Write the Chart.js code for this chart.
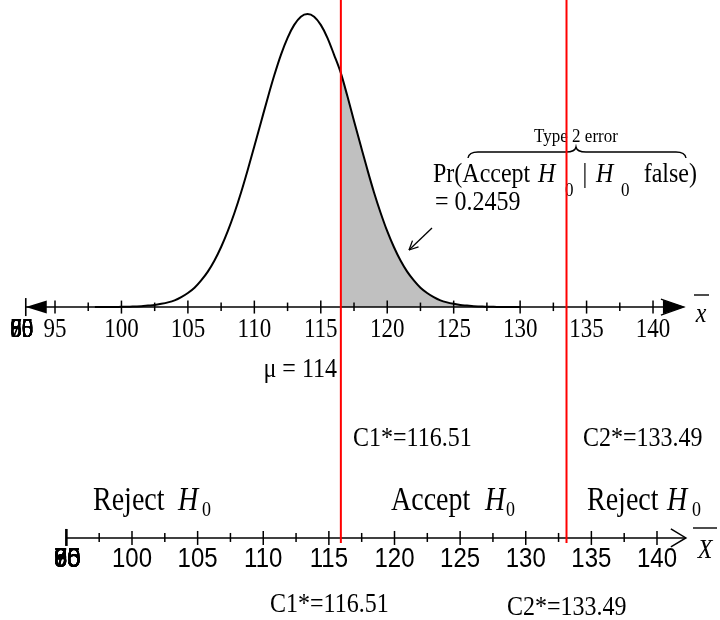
<!DOCTYPE html>
<html lang="en">
<head>
<meta charset="UTF-8">
<title>Type 2 error</title>
<style>
  html, body { margin: 0; padding: 0; background: #fff; }
  #chart { display: block; }
</style>
</head>
<body>
<canvas id="chart" width="720" height="620"></canvas>
<script src="https://cdn.jsdelivr.net/npm/chart.js"></script>
<script>
// values (curve height relative to its peak)
const curveX = [98, 98.5, 99, 99.5, 100, 100.5, 101, 101.5, 102, 102.5, 103, 103.5, 104, 104.5,
  105, 105.5, 106, 106.5, 107, 107.5, 108, 108.5, 109, 109.5, 110, 110.5, 111, 111.5, 112, 112.5,
  113, 113.5, 114, 114.5, 115, 115.5, 116, 116.5, 117, 117.5, 118, 118.5, 119, 119.5, 120, 120.5,
  121, 121.5, 122, 122.5, 123, 123.5, 124, 124.5, 125, 125.5, 126, 126.5, 127, 127.5, 128, 128.5,
  129, 129.5, 130];
const curveY = [0, 0, 0, 0, 0.001, 0.001, 0.002, 0.003, 0.005, 0.007, 0.011, 0.016, 0.023, 0.034,
  0.048, 0.066, 0.091, 0.121, 0.159, 0.205, 0.259, 0.321, 0.391, 0.468, 0.549, 0.631, 0.713, 0.791, 0.861, 0.919,
  0.963, 0.991, 1.000, 0.991, 0.963, 0.919, 0.861, 0.80, 0.72, 0.635, 0.552, 0.47, 0.392, 0.322, 0.259, 0.205,
  0.159, 0.121, 0.091, 0.066, 0.048, 0.034, 0.023, 0.016, 0.011, 0.007, 0.005, 0.003, 0.002, 0.001, 0.001, 0,
  0, 0, 0];
const critical = [116.51, 133.49];
const mu = 114;
const typeTwoError = 0.2459;
const topTicks = [95, 100, 105, 110, 115, 120, 125, 130, 135, 140];
const bottomTicks = [100, 105, 110, 115, 120, 125, 130, 135, 140];
const squashedTop = [55, 60, 65, 70, 75, 80, 85, 90];
const squashedBottom = [55, 60, 65, 70, 75, 80, 85, 90, 95];

// layout
const SERIF = '"Liberation Serif", "Times New Roman", serif';
const SANS = '"Liberation Sans", Arial, sans-serif';
const SY = 1.17;            // the picture is stretched a bit vertically
const Y_MAX = 1.048, Y_MIN = -1.068;
const BOTTOM_AXIS = -0.788; // y value of the lower number line
const RED_BOTTOM = -0.805;
const TOP_START = 92.8, TOP_END = 142.4;
const BOT_START = 95, BOT_END = 142.2;

function txt(ctx, s, x, y, size, o) {
  o = o || {};
  ctx.save();
  ctx.font = (o.italic ? 'italic ' : '') + size + 'px ' + (o.family || SERIF);
  ctx.textAlign = o.align || 'left';
  ctx.textBaseline = 'alphabetic';
  ctx.fillStyle = '#000';
  ctx.translate(x, y);
  ctx.scale(1, SY);
  ctx.fillText(s, 0, 0);
  ctx.restore();
}

function line(ctx, x1, y1, x2, y2, w) {
  ctx.lineWidth = w;
  ctx.beginPath();
  ctx.moveTo(x1, y1);
  ctx.lineTo(x2, y2);
  ctx.stroke();
}

const decor = {
  id: 'decor',
  afterDatasetDraw(chart, args) {
    if (args.index !== 0) return;
    const ctx = chart.ctx;
    const xs = chart.scales.x, xb = chart.scales.xb, ys = chart.scales.y;
    const yt = ys.getPixelForValue(0);
    const yb = ys.getPixelForValue(BOTTOM_AXIS);
    ctx.save();
    ctx.strokeStyle = '#000';
    ctx.fillStyle = '#000';

    // upper number line
    const t0 = xs.getPixelForValue(TOP_START), t1 = xs.getPixelForValue(TOP_END);
    line(ctx, t0, yt, t1 - 10, yt, 1.6);
    line(ctx, t0, yt - 9, t0, yt + 9, 1.6);
    ctx.beginPath();
    ctx.moveTo(t0, yt); ctx.lineTo(t0 + 21, yt - 6.5); ctx.lineTo(t0 + 21, yt + 6.5);
    ctx.closePath(); ctx.fill();
    ctx.beginPath();
    ctx.moveTo(t1, yt); ctx.lineTo(t1 - 22, yt - 7); ctx.lineTo(t1 - 22, yt + 7);
    ctx.closePath(); ctx.fill();
    ctx.lineWidth = 1.2;
    ctx.beginPath();
    ctx.moveTo(t1 - 24, yt - 8); ctx.lineTo(t1 - 1, yt); ctx.lineTo(t1 - 24, yt + 8);
    ctx.stroke();
    topTicks.forEach(v => {
      const px = xs.getPixelForValue(v);
      line(ctx, px, yt - 6.5, px, yt + 6.5, 1.5);
      if (v < 140) {
        const pm = xs.getPixelForValue(v + 2.5);
        line(ctx, pm, yt - 4.5, pm, yt + 4, 1.5);
      }
      txt(ctx, String(v), px, yt + 30, 23, { align: 'center' });
    });
    squashedTop.forEach(v => txt(ctx, String(v), t0 - 4, yt + 30, 23, { align: 'center' }));
    txt(ctx, 'x', 701, 322, 24, { italic: true, align: 'center' });
    line(ctx, 694, 295, 709, 295, 1.4);

    // lower number line
    const b0 = xb.getPixelForValue(BOT_START), b1 = xb.getPixelForValue(BOT_END);
    line(ctx, b0, yb, b1, yb, 1.6);
    line(ctx, b0, yb - 9, b0, yb + 8, 2.6);
    ctx.lineWidth = 1.5;
    ctx.beginPath();
    ctx.moveTo(b1 - 15, yb - 9); ctx.lineTo(b1, yb); ctx.lineTo(b1 - 15, yb + 9);
    ctx.stroke();
    [95].concat(bottomTicks).forEach(v => {
      const px = xb.getPixelForValue(v);
      if (v > 95) line(ctx, px, yb - 7, px, yb + 7, 1.5);
      if (v < 140) {
        const pm = xb.getPixelForValue(v + 2.5);
        line(ctx, pm, yb - 5, pm, yb + 4, 1.5);
      }
    });
    bottomTicks.forEach(v => {
      txt(ctx, String(v), xb.getPixelForValue(v), yb + 29, 24, { family: SANS, align: 'center' });
    });
    squashedBottom.forEach(v => txt(ctx, String(v), b0 + 1, yb + 29, 24, { family: SANS, align: 'center' }));
    txt(ctx, 'X', 705, 558, 24, { italic: true, align: 'center' });
    line(ctx, 693, 528, 717, 528, 1.4);

    // annotations
    txt(ctx, 'Type 2 error', 576, 142, 17, { align: 'center' });
    ctx.lineWidth = 1.4;
    ctx.beginPath();
    ctx.moveTo(468, 158);
    ctx.quadraticCurveTo(469, 152, 478, 152);
    ctx.lineTo(566, 152);
    ctx.quadraticCurveTo(575, 152, 576, 147);
    ctx.quadraticCurveTo(577, 152, 586, 152);
    ctx.lineTo(676, 152);
    ctx.quadraticCurveTo(685, 152, 686, 158);
    ctx.stroke();

    txt(ctx, 'Pr(Accept', 433, 182, 24);
    txt(ctx, 'H', 538, 182, 24, { italic: true });
    txt(ctx, '0', 565, 196, 17);
    txt(ctx, '|', 585, 182, 24, { align: 'center' });
    txt(ctx, 'H', 596, 182, 24, { italic: true });
    txt(ctx, '0', 621, 196, 17);
    txt(ctx, 'false)', 697, 182, 24, { align: 'right' });
    txt(ctx, '= ' + typeTwoError, 435, 210, 24);

    // small pointer arrow
    const ax = 409, ay = 250, bx = 432, by = 228;
    line(ctx, ax, ay, bx, by, 1.3);
    const ang = Math.atan2(by - ay, bx - ax);
    [0.45, -0.45].forEach(d => {
      line(ctx, ax, ay, ax + 10 * Math.cos(ang + d), ay + 10 * Math.sin(ang + d), 1.3);
    });

    txt(ctx, '\u03bc = ' + mu, 337, 377, 24, { align: 'right' });
    txt(ctx, 'C1*=' + critical[0].toFixed(2), 353, 446, 24);
    txt(ctx, 'C2*=' + critical[1].toFixed(2), 583, 446, 24);

    txt(ctx, 'Reject', 93, 510, 28);
    txt(ctx, 'H', 178, 510, 28, { italic: true });
    txt(ctx, '0', 202, 516, 18);
    txt(ctx, 'Accept', 391, 510, 28);
    txt(ctx, 'H', 485, 510, 28, { italic: true });
    txt(ctx, '0', 506, 516, 18);
    txt(ctx, 'Reject', 587, 510, 28);
    txt(ctx, 'H', 667, 510, 28, { italic: true });
    txt(ctx, '0', 692, 516, 18);

    txt(ctx, 'C1*=' + critical[0].toFixed(2), 270, 612, 24);
    txt(ctx, 'C2*=' + critical[1].toFixed(2), 507, 615, 24);
    ctx.restore();
  }
};

const curve = curveX.map((x, i) => ({ x: x, y: curveY[i] }));
const shaded = curve.filter(p => p.x >= 116.5 && p.x <= critical[1]);

new Chart(document.getElementById('chart'), {
  type: 'line',
  data: {
    datasets: [
      { data: shaded, order: 3, fill: 'origin', backgroundColor: '#c0c0c0',
        borderWidth: 0, pointRadius: 0, cubicInterpolationMode: 'monotone' },
      { data: curve, order: 2, fill: false, borderColor: '#000', borderWidth: 2,
        pointRadius: 0, cubicInterpolationMode: 'monotone' },
      { data: [{ x: critical[0], y: Y_MAX }, { x: critical[0], y: RED_BOTTOM }], order: 1,
        borderColor: '#ff0000', borderWidth: 2, pointRadius: 0, fill: false },
      { data: [{ x: critical[1], y: Y_MAX }, { x: critical[1], y: RED_BOTTOM }], order: 1,
        borderColor: '#ff0000', borderWidth: 2, pointRadius: 0, fill: false }
    ]
  },
  options: {
    responsive: false,
    animation: false,
    layout: { padding: 0 },
    plugins: { legend: { display: false }, tooltip: { enabled: false } },
    scales: {
      x: { type: 'linear', display: false, min: 90.861, max: 145.04 },
      xb: { type: 'linear', axis: 'x', display: false, min: 89.943, max: 144.8 },
      y: { display: false, min: Y_MIN, max: Y_MAX }
    }
  },
  plugins: [decor]
});
</script>
</body>
</html>
